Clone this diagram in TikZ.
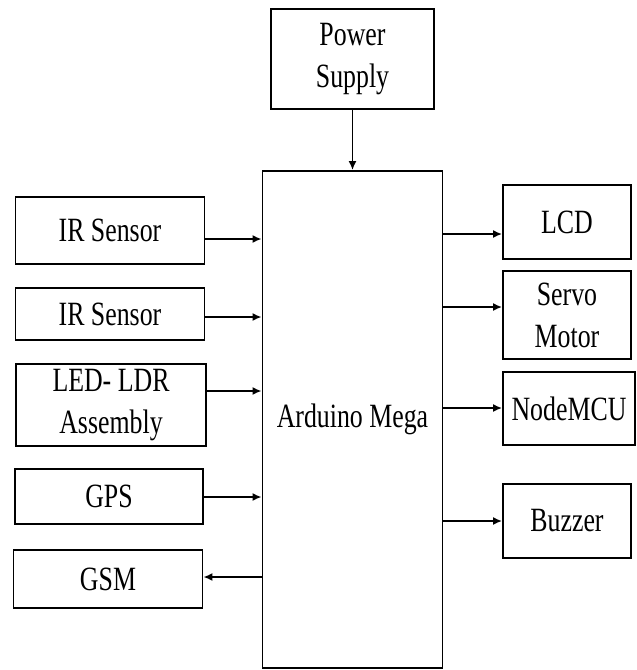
\documentclass[tikz,border=0pt]{standalone}
\usepackage{fontspec}
\setmainfont{Liberation Serif}
\newfontfamily\boxfont[FakeStretch=0.76]{Liberation Serif}
\usetikzlibrary{arrows.meta}
\begin{document}
\begin{tikzpicture}[x=1pt,y=-1pt,
  box/.style={draw,line width=1.8pt,rectangle,inner sep=0pt,align=center,
    font=\boxfont\fontsize{34}{42}\selectfont},
  arr/.style={line width=1.8pt,-{Latex[length=9pt,width=8pt]}}]
\useasboundingbox (0,0) rectangle (637,670);
% nodes
\node[box,minimum width=163pt,minimum height=100pt] (power) at (352.5,59) {Power\\Supply};
\node[box,minimum width=180pt,minimum height=497pt] (ard) at (352.5,419.5) {};
\node[font=\boxfont\fontsize{34}{42}\selectfont] (ardtxt) at (352.5,419) {Arduino Mega};
\node[box,minimum width=189pt,minimum height=67pt] (ir1) at (110,230.5) {IR Sensor};
\node[box,minimum width=189pt,minimum height=52pt] (ir2) at (110,314) {IR Sensor};
\node[box,minimum width=190pt,minimum height=82pt] (led) at (111,405) {LED- LDR\\Assembly};
\node[box,minimum width=188pt,minimum height=55pt] (gps) at (109,496.5) {GPS};
\node[box,minimum width=189pt,minimum height=58pt] (gsm) at (108,579) {GSM};
\node[box,minimum width=128pt,minimum height=74pt] (lcd) at (567,222) {LCD};
\node[box,minimum width=128pt,minimum height=88pt] (servo) at (567,315) {Servo\\Motor};
\node[box,minimum width=132pt,minimum height=73pt] (nmcu) at (569,408.5) {NodeMCU};
\node[box,minimum width=128pt,minimum height=74pt] (buzz) at (567,521) {Buzzer};
% arrow levels
\coordinate (l1) at (0,239);
\coordinate (l2) at (0,317);
\coordinate (l3) at (0,391);
\coordinate (l4) at (0,497);
\coordinate (l5) at (0,577);
\coordinate (r1) at (0,234);
\coordinate (r2) at (0,307);
\coordinate (r3) at (0,408);
\coordinate (r4) at (0,521);
% connectors
\draw[arr] (power.south) -- (ard.north);
\draw[arr] (ir1.east |- l1) -- (ard.west |- l1);
\draw[arr] (ir2.east |- l2) -- (ard.west |- l2);
\draw[arr] (led.east |- l3) -- (ard.west |- l3);
\draw[arr] (gps.east |- l4) -- (ard.west |- l4);
\draw[arr] (ard.west |- l5) -- (gsm.east |- l5);
\draw[arr] (ard.east |- r1) -- (lcd.west |- r1);
\draw[arr] (ard.east |- r2) -- (servo.west |- r2);
\draw[arr] (ard.east |- r3) -- (nmcu.west |- r3);
\draw[arr] (ard.east |- r4) -- (buzz.west |- r4);
\end{tikzpicture}
\end{document}
